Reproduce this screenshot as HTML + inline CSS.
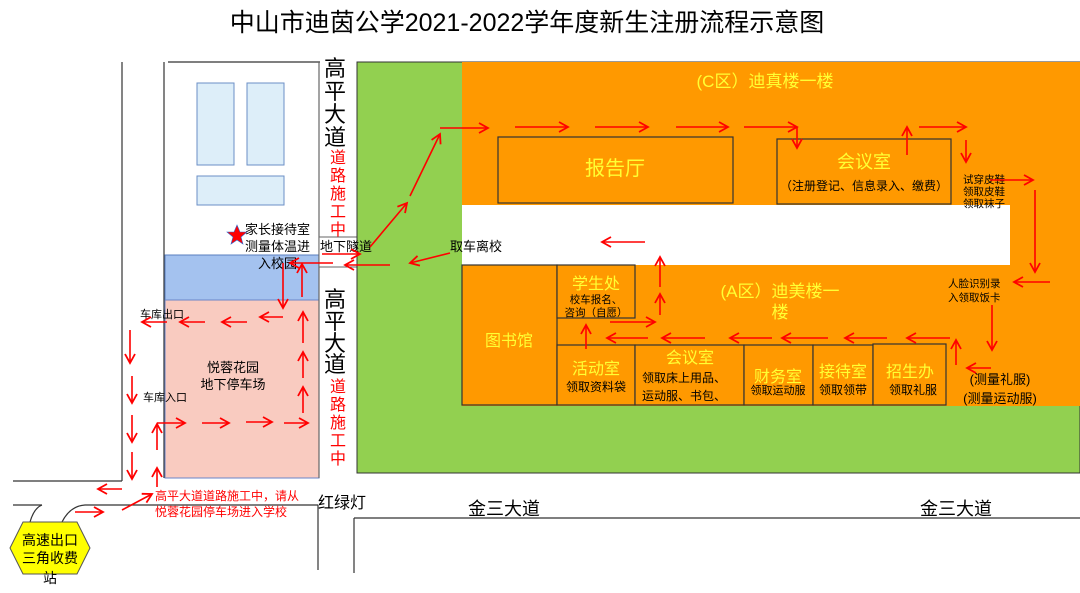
<!DOCTYPE html>
<html><head><meta charset="utf-8"><style>
html,body{margin:0;padding:0;background:#fff}
svg{display:block}
text{font-family:"Liberation Sans","Noto Sans CJK SC",sans-serif}
</style></head><body>
<svg width="1080" height="593" viewBox="0 0 1080 593" xmlns="http://www.w3.org/2000/svg">
<defs>
<marker id="a" markerWidth="14" markerHeight="14" refX="10" refY="6" orient="auto" markerUnits="userSpaceOnUse">
<path d="M1,1 L10,6 L1,11" fill="none" stroke="#f00" stroke-width="1.8"/>
</marker>
</defs>
<text x="527" y="31" font-size="25" text-anchor="middle" fill="#000">中山市迪茵公学2021-2022学年度新生注册流程示意图</text>

<g stroke="#333" stroke-width="1.2" fill="none">
<line x1="122" y1="62" x2="122" y2="481"/>
<line x1="13" y1="481" x2="122" y2="481"/>
<line x1="164" y1="62" x2="164" y2="478"/>
<line x1="168" y1="62" x2="320" y2="62"/>
<line x1="13" y1="505" x2="42" y2="505"/>
<path d="M30,522 Q34,508 42,505"/>
<path d="M62,522 Q70,506 85,505 L318,505"/>
<line x1="318" y1="505" x2="318" y2="570"/>
<line x1="354" y1="518" x2="354" y2="573"/>
<line x1="354" y1="518" x2="1080" y2="518"/>
</g>
<rect x="165" y="255" width="154" height="45" fill="#a4c2ef" stroke="#5a7fbf" stroke-width="1"/>
<rect x="165" y="300" width="154" height="178" fill="#f9cbc0" stroke="#6a86c8" stroke-width="1"/>
<g fill="#ddeef9" stroke="#6b8fc6" stroke-width="1">
<rect x="197" y="83" width="37" height="82"/>
<rect x="247" y="83" width="37" height="82"/>
<rect x="197" y="176" width="87" height="29"/>
</g>
<line x1="319" y1="62" x2="319" y2="478" stroke="#666" stroke-width="1.2"/>
<rect x="319" y="237" width="38" height="30" fill="#fff" stroke="#666" stroke-width="1"/>
<rect x="357" y="62" width="723" height="411" fill="#92d050" stroke="#333" stroke-width="1"/>
<rect x="462" y="62" width="618" height="344" fill="#ff9900"/>
<rect x="462" y="205" width="548" height="60" fill="#fff"/>
<g stroke="#333" stroke-width="1.2" fill="#ff9900">
<rect x="498" y="137" width="235" height="66"/>
<rect x="777" y="139" width="174" height="65"/>
<rect x="462" y="265" width="95" height="140"/>
<rect x="557" y="265" width="78" height="53"/>
<rect x="557" y="345" width="78" height="60"/>
<rect x="635" y="345" width="109" height="60"/>
<rect x="744" y="345" width="69" height="60"/>
<rect x="813" y="345" width="60" height="60"/>
<rect x="873" y="344" width="73" height="61"/>
</g>
<line x1="557" y1="318" x2="557" y2="345" stroke="#333"/>
<polygon points="10,548 23,522 77,522 90,548 77,574 23,574" fill="#ffff00" stroke="#555" stroke-width="1"/>
<text font-size="14" fill="#000" text-anchor="middle"><tspan x="50" y="545">高速出口</tspan><tspan x="50" y="563">三角收费</tspan><tspan x="50" y="583">站</tspan></text>

<polygon points="237,225 240,232 247,232 241,237 243,244 237,240 231,244 233,237 227,232 234,232" fill="#f00" stroke="#36c" stroke-width="0.6"/>

<g font-size="13" fill="#000">
<text x="245" y="234">家长接待室</text>
<text x="245" y="251">测量体温进</text>
<text x="258" y="268">入校园</text>
<text x="320" y="251">地下隧道</text>
<text x="450" y="251">取车离校</text>
</g>
<g font-size="11" fill="#000">
<text x="140" y="318">车库出口</text>
<text x="143" y="401">车库入口</text>
</g>
<text font-size="13" fill="#000" text-anchor="middle"><tspan x="233" y="372">悦蓉花园</tspan><tspan x="233" y="389">地下停车场</tspan></text>
<text font-size="22" fill="#000" text-anchor="middle"><tspan x="335" y="76">高</tspan><tspan x="335" y="99">平</tspan><tspan x="335" y="122">大</tspan><tspan x="335" y="145">道</tspan></text>
<text font-size="16" fill="#f00" text-anchor="middle"><tspan x="338" y="163">道</tspan><tspan x="338" y="181">路</tspan><tspan x="338" y="199">施</tspan><tspan x="338" y="217">工</tspan><tspan x="338" y="235">中</tspan></text>
<text font-size="22" fill="#000" text-anchor="middle"><tspan x="335" y="307">高</tspan><tspan x="335" y="329">平</tspan><tspan x="335" y="351">大</tspan><tspan x="335" y="372">道</tspan></text>
<text font-size="16" fill="#f00" text-anchor="middle"><tspan x="338" y="392">道</tspan><tspan x="338" y="410">路</tspan><tspan x="338" y="428">施</tspan><tspan x="338" y="446">工</tspan><tspan x="338" y="464">中</tspan></text>
<text x="318" y="508" font-size="16" fill="#000">红绿灯</text>
<text x="468" y="515" font-size="18" fill="#000">金三大道</text>
<text x="920" y="515" font-size="18" fill="#000">金三大道</text>
<text font-size="12" fill="#f00"><tspan x="155" y="500">高平大道道路施工中，请从</tspan><tspan x="155" y="516">悦蓉花园停车场进入学校</tspan></text>

<g fill="#ffff33" text-anchor="middle">
<text x="765" y="87" font-size="17">(C区）迪真楼一楼</text>
<text x="615" y="175" font-size="20">报告厅</text>
<text x="864" y="168" font-size="18">会议室</text>
<text x="780" y="297" font-size="17">(A区）迪美楼一</text>
<text x="780" y="318" font-size="17">楼</text>
<text x="509" y="346" font-size="16">图书馆</text>
<text x="596" y="289" font-size="16">学生处</text>
<text x="596" y="374" font-size="16">活动室</text>
<text x="690" y="363" font-size="16">会议室</text>
<text x="778" y="382" font-size="16">财务室</text>
<text x="843" y="377" font-size="16">接待室</text>
<text x="910" y="377" font-size="16">招生办</text>
</g>
<g fill="#000">
<text x="864" y="190" font-size="12" text-anchor="middle">（注册登记、信息录入、缴费）</text>
<text font-size="10.5"><tspan x="963" y="183">试穿皮鞋</tspan><tspan x="963" y="195">领取皮鞋</tspan><tspan x="963" y="207">领取袜子</tspan></text>
<text font-size="10.5"><tspan x="948" y="287">人脸识别录</tspan><tspan x="948" y="301">入领取饭卡</tspan></text>
<text font-size="10.5" text-anchor="middle"><tspan x="596" y="303">校车报名、</tspan><tspan x="596" y="316">咨询（自愿）</tspan></text>
<text font-size="12" text-anchor="middle" x="596" y="391">领取资料袋</text>
<text font-size="12"><tspan x="642" y="382">领取床上用品、</tspan><tspan x="642" y="400">运动服、书包、</tspan></text>
<text font-size="11" text-anchor="middle" x="778" y="394">领取运动服</text>
<text font-size="12" text-anchor="middle" x="843" y="394">领取领带</text>
<text font-size="12" text-anchor="middle" x="913" y="394">领取礼服</text>
<text font-size="13" text-anchor="middle"><tspan x="1000" y="384">(测量礼服)</tspan><tspan x="1000" y="403">(测量运动服)</tspan></text>
</g>

<g stroke="#f00" stroke-width="1.6" fill="none" marker-end="url(#a)">
<line x1="440" y1="128" x2="488" y2="128"/>
<line x1="515" y1="127" x2="568" y2="127"/>
<line x1="595" y1="127" x2="648" y2="127"/>
<line x1="676" y1="127" x2="728" y2="127"/>
<line x1="744" y1="127" x2="797" y2="127"/>
<line x1="797" y1="127" x2="797" y2="148"/>
<line x1="907" y1="155" x2="907" y2="127"/>
<line x1="919" y1="127" x2="966" y2="127"/>
<line x1="966" y1="140" x2="966" y2="162"/>
<line x1="990" y1="180" x2="1033" y2="180"/>
<line x1="1035" y1="190" x2="1035" y2="272"/>
<line x1="1050" y1="282" x2="1014" y2="282"/>
<line x1="992" y1="305" x2="992" y2="350"/>
<line x1="991" y1="368" x2="967" y2="368"/>
<line x1="956" y1="365" x2="956" y2="340"/>
<line x1="950" y1="338" x2="907" y2="338"/>
<line x1="887" y1="338" x2="845" y2="338"/>
<line x1="828" y1="338" x2="782" y2="338"/>
<line x1="772" y1="338" x2="730" y2="338"/>
<line x1="705" y1="338" x2="662" y2="338"/>
<line x1="648" y1="338" x2="607" y2="338"/>
<line x1="586" y1="349" x2="586" y2="325"/>
<line x1="610" y1="322" x2="655" y2="322"/>
<line x1="660" y1="315" x2="660" y2="294"/>
<line x1="660" y1="287" x2="660" y2="257"/>
<line x1="645" y1="242" x2="602" y2="242"/>
<line x1="450" y1="253" x2="410" y2="263"/>
<line x1="370" y1="247" x2="407" y2="203"/>
<line x1="410" y1="196" x2="440" y2="134"/>
<line x1="322" y1="254" x2="360" y2="254"/>
<line x1="390" y1="265" x2="345" y2="265"/>
<line x1="333" y1="263" x2="290" y2="263"/>
<line x1="283" y1="263" x2="283" y2="308"/>
<line x1="302" y1="297" x2="302" y2="264"/>
<line x1="283" y1="317" x2="260" y2="317"/>
<line x1="247" y1="322" x2="222" y2="322"/>
<line x1="205" y1="322" x2="180" y2="322"/>
<line x1="167" y1="322" x2="142" y2="322"/>
<line x1="303" y1="413" x2="303" y2="387"/>
<line x1="303" y1="378" x2="303" y2="352"/>
<line x1="303" y1="343" x2="303" y2="312"/>
<line x1="157" y1="423" x2="185" y2="423"/>
<line x1="202" y1="423" x2="229" y2="423"/>
<line x1="246" y1="422" x2="272" y2="422"/>
<line x1="284" y1="423" x2="308" y2="423"/>
<line x1="130" y1="330" x2="130" y2="363"/>
<line x1="132" y1="376" x2="132" y2="403"/>
<line x1="132" y1="415" x2="132" y2="442"/>
<line x1="132" y1="452" x2="132" y2="479"/>
<line x1="122" y1="489" x2="98" y2="489"/>
<line x1="75" y1="512" x2="103" y2="512"/>
<line x1="122" y1="510" x2="152" y2="494"/>
<line x1="157" y1="487" x2="157" y2="468"/>
<line x1="157" y1="450" x2="157" y2="424"/>
</g>
</svg>
</body></html>
